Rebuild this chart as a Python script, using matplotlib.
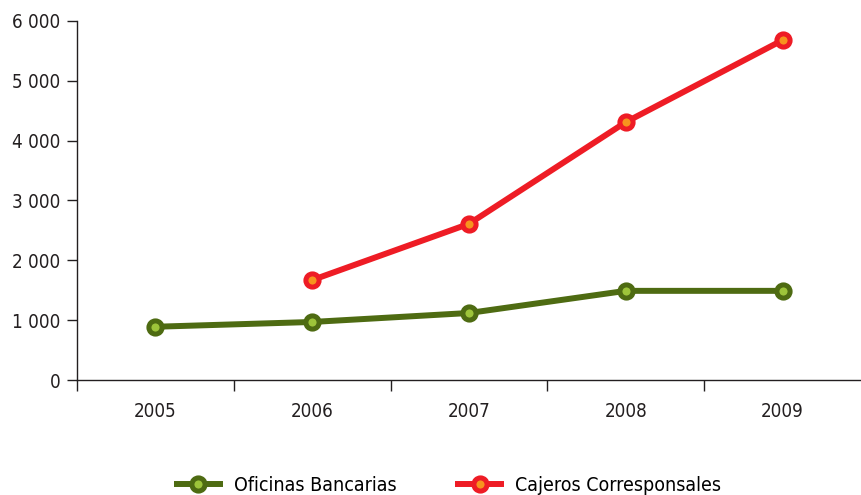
import matplotlib.pyplot as plt
from matplotlib.ticker import FixedLocator, FuncFormatter

years = ['2005', '2006', '2007', '2008', '2009']
oficinas = [890, 970, 1120, 1490, 1490]
cajeros_years = ['2006', '2007', '2008', '2009']
cajeros = [1670, 2610, 4310, 5680]

plt.rcParams['font.family'] = ['Liberation Sans Narrow', 'DejaVu Sans']
plt.rcParams['font.stretch'] = 'condensed'
dark = '#231f20'

fig = plt.figure(figsize=(8.61, 4.95), dpi=100)
ax = fig.add_axes([0.0894, 0.2323, 0.9106, 0.7253])

xo = [years.index(y) for y in years]
xc = [years.index(y) for y in cajeros_years]

ax.plot(xo, oficinas, color='#4e6b12', lw=4.3, marker='o', ms=9.5,
        mfc='#9dc43a', mec='#4e6b12', mew=3.6, label='Oficinas Bancarias',
        solid_capstyle='butt')
ax.plot(xc, cajeros, color='#ee1c25', lw=4.3, marker='o', ms=9.5,
        mfc='#f7931e', mec='#ee1c25', mew=3.6, label='Cajeros Corresponsales',
        solid_capstyle='butt')

ax.set_xlim(-0.5, 4.5)
ax.set_ylim(0, 6000)
ax.set_yticks(range(0, 6001, 1000))
ax.yaxis.set_major_formatter(FuncFormatter(lambda v, p: f'{int(v):,}'.replace(',', ' ')))

ax.xaxis.set_major_locator(FixedLocator([-0.5, 0.5, 1.5, 2.5, 3.5]))
ax.xaxis.set_minor_locator(FixedLocator(range(len(years))))
ax.set_xticklabels([])
ax.set_xticklabels(years, minor=True)
ax.tick_params(axis='x', which='major', length=8, width=1.0, color=dark)
ax.tick_params(axis='x', which='minor', length=0, pad=16, labelsize=13.5, labelcolor=dark)
ax.tick_params(axis='y', length=7, width=1.0, color=dark, pad=5, labelsize=13.5, labelcolor=dark)

for s in ['top', 'right']:
    ax.spines[s].set_visible(False)
for s in ['left', 'bottom']:
    ax.spines[s].set_color(dark)
    ax.spines[s].set_linewidth(1.0)
ax.spines['bottom'].set_bounds(-0.5, 4.5)

fig.legend(loc='lower center', bbox_to_anchor=(0.52, -0.035), ncol=2, frameon=False,
           fontsize=14, handlelength=2.5, columnspacing=3.0, handletextpad=0.6)

fig.savefig('out.png', dpi=100)
